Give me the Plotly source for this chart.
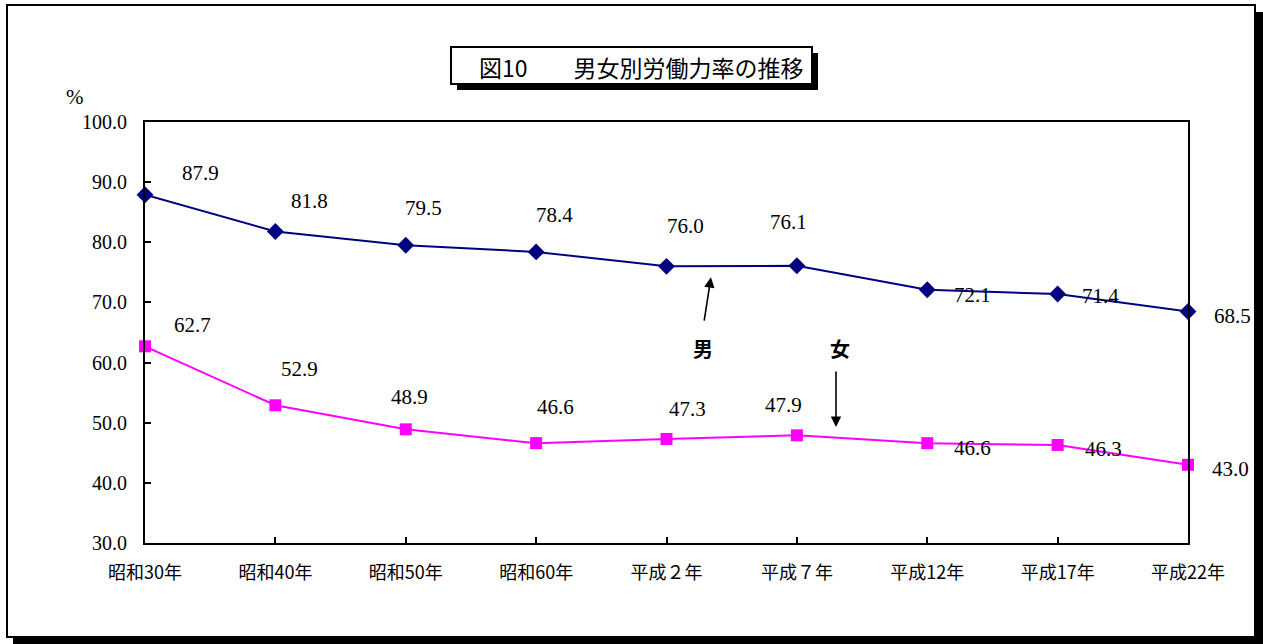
import plotly.graph_objects as go

# ---------------- data ----------------
categories = ["昭和30年", "昭和40年", "昭和50年", "昭和60年", "平成２年",
              "平成７年", "平成12年", "平成17年", "平成22年"]
male = [87.9, 81.8, 79.5, 78.4, 76.0, 76.1, 72.1, 71.4, 68.5]
female = [62.7, 52.9, 48.9, 46.6, 47.3, 47.9, 46.6, 46.3, 43.0]
y_ticks = [30, 40, 50, 60, 70, 80, 90, 100]
title_text = "図10　　男女別労働力率の推移"

# ---------------- layout geometry (pixels) ----------------
W, H = 1263, 644
L, R, T, B = 145, 75, 122, 101
PW, PH = W - L - R, H - T - B


def px(x):
    return (x - L) / PW


def py(y):
    return (H - B - y) / PH


serif = "Liberation Serif, DejaVu Serif, serif"
jp = "Noto Sans CJK JP, sans-serif"

# label offsets (pixels) relative to the point
male_off = [(55, 22), (34, 30), (18, 37), (18, 37), (19, 40), (-8, 44), (45, -5), (43, -2), (44, -5)]
female_off = [(47, 21), (24, 36), (4, 32), (19, 36), (21, 30), (-13, 30), (45, -5), (46, -4), (42, -4)]

xs = list(range(len(categories)))

fig = go.Figure()
fig.add_trace(go.Scatter(
    x=xs, y=male, mode="lines+markers", name="男",
    line=dict(color="#000080", width=2),
    marker=dict(symbol="diamond", size=13, color="#000080"),
    cliponaxis=False, showlegend=False, hoverinfo="skip"))
fig.add_trace(go.Scatter(
    x=xs, y=female, mode="lines+markers", name="女",
    line=dict(color="#FF00FF", width=2),
    marker=dict(symbol="square", size=12, color="#FF00FF"),
    cliponaxis=False, showlegend=False, hoverinfo="skip"))

annotations = []
for series, offs in ((male, male_off), (female, female_off)):
    for i, (v, (dx, dy)) in enumerate(zip(series, offs)):
        annotations.append(dict(
            x=xs[i], y=v, xref="x", yref="y", text=f"{v:.1f}",
            showarrow=False, xshift=dx, yshift=dy,
            xanchor="center", yanchor="middle",
            font=dict(family=serif, size=21, color="#000000")))

# 男 / 女 labels and arrows
annotations += [
    dict(x=4.28, y=62.3, xref="x", yref="y", text="<b>男</b>", showarrow=False,
         xanchor="center", yanchor="middle",
         font=dict(family=jp, size=20, color="#000")),
    dict(x=5.33, y=62.4, xref="x", yref="y", text="<b>女</b>", showarrow=False,
         xanchor="center", yanchor="middle",
         font=dict(family=jp, size=20, color="#000")),
    dict(x=4.341, y=74.2, xref="x", yref="y", ax=-7, ay=45, axref="pixel", ayref="pixel",
         text="", showarrow=True, arrowhead=2, arrowsize=1.3, arrowwidth=1.6, arrowcolor="#000"),
    dict(x=5.30, y=49.3, xref="x", yref="y", ax=0, ay=-57, axref="pixel", ayref="pixel",
         text="", showarrow=True, arrowhead=2, arrowsize=1.3, arrowwidth=1.6, arrowcolor="#000"),
    dict(x=px(75), y=py(97), xref="paper", yref="paper", text="%", showarrow=False,
         xanchor="center", yanchor="middle",
         font=dict(family=serif, size=21, color="#000")),
    dict(x=px(641), y=py(67), xref="paper", yref="paper", text=title_text, showarrow=False,
         xanchor="center", yanchor="middle",
         font=dict(family=jp, size=23, color="#000")),
]

shapes = [
    # outer frame shadow
    dict(type="rect", xref="paper", yref="paper", x0=px(1254), x1=px(1263), y0=py(643), y1=py(12),
         fillcolor="#000", line=dict(width=0)),
    dict(type="rect", xref="paper", yref="paper", x0=px(13), x1=px(1263), y0=py(644), y1=py(636),
         fillcolor="#000", line=dict(width=0)),
    # outer frame
    dict(type="rect", xref="paper", yref="paper", x0=px(7), x1=px(1255), y0=py(637), y1=py(5),
         line=dict(color="#000", width=2)),
    # title shadow
    dict(type="rect", xref="paper", yref="paper", x0=px(457), x1=px(818), y0=py(90), y1=py(53),
         fillcolor="#000", line=dict(width=0)),
    # title box
    dict(type="rect", xref="paper", yref="paper", x0=px(451), x1=px(812), y0=py(84), y1=py(47),
         fillcolor="#fff", line=dict(color="#000", width=2)),
]

fig.update_layout(
    width=W, height=H,
    margin=dict(l=L, r=R, t=T, b=B, pad=0),
    paper_bgcolor="#fff", plot_bgcolor="#fff",
    annotations=annotations, shapes=shapes,
    xaxis=dict(range=[0, len(categories) - 1], tickvals=xs, ticktext=categories,
               showgrid=False, zeroline=False, showline=True, linecolor="#000", linewidth=2,
               mirror=True, ticks="inside", ticklen=6, tickcolor="#000", tickwidth=2,
               ticklabelstandoff=12,
               tickfont=dict(family=jp, size=18, color="#000")),
    yaxis=dict(range=[30, 100], tickvals=y_ticks, tickformat=".1f",
               showgrid=False, zeroline=False, showline=True, linecolor="#000", linewidth=2,
               mirror=True, ticks="inside", ticklen=6, tickcolor="#000", tickwidth=2,
               ticklabelstandoff=12,
               tickfont=dict(family=serif, size=20, color="#000")),
)

fig.write_html("out.html")
